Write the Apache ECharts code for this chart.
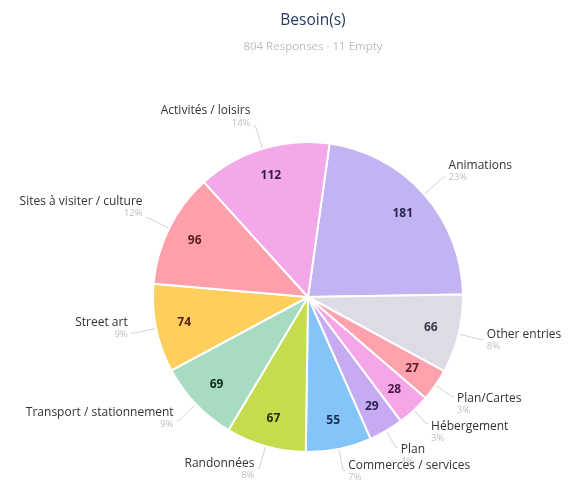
<!DOCTYPE html>
<html><head><meta charset="utf-8">
<script src="https://cdn.jsdelivr.net/npm/echarts@6/dist/echarts.min.js"></script>
<style>html,body{margin:0;padding:0;background:#fff}#c{width:571px;height:484px}</style>
</head><body><div id="c"></div>
<script>
const categories = ['Animations','Other entries','Plan/Cartes','Hébergement','Plan','Commerces / services','Randonnées','Transport / stationnement','Street art','Sites à visiter / culture','Activités / loisirs'];
const values = [181,66,27,28,29,55,67,69,74,96,112];
const colors = ['#c4b3f2','#dcdbe6','#fea3ad','#f4a6e8','#c6aaf2','#84c4f8','#c4dc4e','#a8dcc2','#fecf5c','#fea0ab','#f3a8e9'];
const valueColors = ['#26264e','#3a3a48','#5e1a26','#4a1a48','#2a2256','#1a2c50','#26300e','#0e2a1e','#5a2416','#5a2020','#2e1e44'];
const title = 'Besoin(s)';
const subtitle = '804 Responses · 11 Empty';

// label offsets (padding) and label line lengths per slice
const labelPad = [[0,0,14,0],[0,0,0,0],[14,0,0,0],[16,0,0,0],[14,0,0,0],[0,0,0,0],[0,0,0,0],[0,0,6,0],[0,0,12,0],[0,0,22,0],[0,0,20,0]];
const lineLen = [26,24,20,18,19,22,23,24,24,24,24];

const total = values.reduce((a,b)=>a+b,0);
const chart = echarts.init(document.getElementById('c'));
const ff = '"Open Sans", Lato, sans-serif';
chart.setOption({
  animation:false,
  title:{text:title, subtext:subtitle, left:308, top:8, textAlign:'center', itemGap:12,
    textStyle:{color:'#253a60', fontSize:15.5, fontWeight:500, fontFamily:'"Open Sans", sans-serif'},
    subtextStyle:{color:'#bdbdbd', fontSize:11.5, fontFamily:ff}},
  series:[{
    type:'pie', center:[308,297], radius:[0,155], startAngle:82, clockwise:true, avoidLabelOverlap:false,
    labelLayout:{hideOverlap:false},
    itemStyle:{borderColor:'#fff', borderWidth:2},
    data: categories.map((n,i)=>({name:n, value:values[i], itemStyle:{color:colors[i]},
      label:{padding:labelPad[i]}, labelLine:{length:lineLen[i]}})),
    label:{show:true, position:'outside', fontFamily:ff, distanceToLabelLine:3,
      formatter:p=>'{n|'+p.name+'}\n{p|'+Math.round(p.value/total*100)+'%}',
      rich:{n:{color:'#333', fontSize:12, lineHeight:14, fontFamily:ff}, p:{color:'#c0c0c0', fontSize:9.5, lineHeight:10, fontFamily:ff}}},
    labelLine:{show:true, length:24, length2:2, lineStyle:{color:'#d2d2d2', width:1}},
    emphasis:{disabled:true}
  },{
    type:'pie', center:[308,297], radius:[92,155], startAngle:82, clockwise:true, silent:true,
    labelLayout:{hideOverlap:false},
    itemStyle:{color:'rgba(0,0,0,0)', borderWidth:0},
    data: categories.map((n,i)=>({name:n, value:values[i], label:{color:valueColors[i]}})),
    label:{show:true, position:'inside', formatter:'{c}', fontSize:12, fontWeight:'bold', fontFamily:ff},
    labelLine:{show:false}, emphasis:{disabled:true}
  }]
});
</script></body></html>
